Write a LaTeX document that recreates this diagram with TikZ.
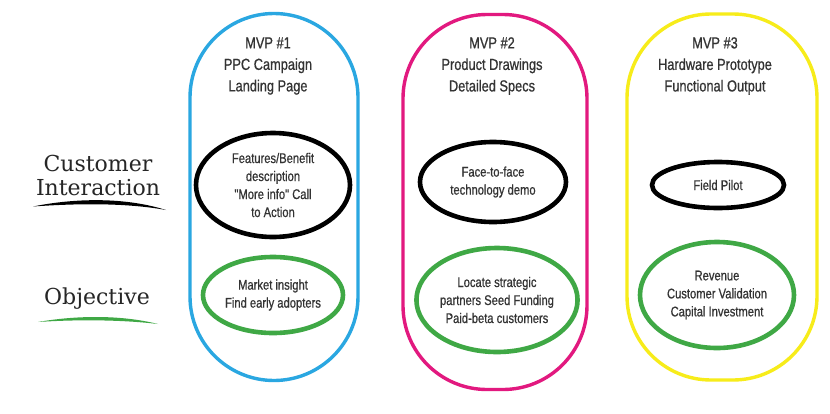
\documentclass[tikz,border=0pt]{standalone}
\usepackage{fontspec}
\setmainfont{DejaVu Serif}
\newfontfamily\narrowsans[FakeStretch=0.8,FakeBold=0.7]{Liberation Sans}
\usepackage{xcolor}
\usetikzlibrary{shapes.geometric}
\definecolor{mvpblue}{HTML}{2AA7E1}
\definecolor{mvppink}{HTML}{E2197F}
\definecolor{mvpyellow}{HTML}{F7EC1A}
\definecolor{ringgreen}{HTML}{3FA845}
\definecolor{inktext}{HTML}{333333}

\begin{document}
\begin{tikzpicture}[
    x=1pt,y=-1pt,
    capsule/.style 2 args={draw,line width=3.4pt,rounded corners=84pt,
      minimum width=#1,minimum height=#2,inner sep=0pt},
    ring/.style={ellipse,line width=4.6pt,inner sep=0pt,align=center,
      text=inktext,font=\narrowsans\fontsize{14}{18}\selectfont},
    head/.style={align=center,text=inktext,
      font=\narrowsans\fontsize{16}{21.5}\selectfont},
    side/.style={align=center,text=black!85,
      font=\fontsize{22}{24}\selectfont},
  ]
    \fill[white] (0,0) rectangle (830,413);
    \useasboundingbox (0,0) rectangle (830,413);

    % the three MVP columns
    \node[capsule={168pt}{367pt},draw=mvpblue] (mvp1) at (274,197) {};
    \node[capsule={184pt}{375pt},draw=mvppink] (mvp2) at (495,202) {};
    \node[capsule={190pt}{366pt},draw=mvpyellow] (mvp3) at (722,197) {};

    \node[head] (head1) at (268,66) {MVP \#1\\PPC Campaign\\Landing Page};
    \node[head] (head2) at (492,66) {MVP \#2\\Product Drawings\\Detailed Specs};
    \node[head] (head3) at (715,66) {MVP \#3\\Hardware Prototype\\Functional Output};

    % customer interaction row
    \node[ring,draw=black,minimum width=154pt,minimum height=104pt] (cust1)
      at (273,185) {Features/Benefit\\description\\"More info" Call\\to Action};
    \node[ring,draw=black,minimum width=146pt,minimum height=80pt] (cust2)
      at (493,182) {Face-to-face\\technology demo};
    \node[ring,draw=black,minimum width=132pt,minimum height=46pt] (cust3)
      at (718,185) {Field Pilot};

    % objective row
    \node[ring,draw=ringgreen,minimum width=140pt,minimum height=76pt] (obj1)
      at (273,295) {Market insight\\Find early adopters};
    \node[ring,draw=ringgreen,minimum width=158pt,minimum height=104pt] (obj2)
      at (497,300) {Locate strategic\\partners Seed Funding\\Paid-beta customers};
    \node[ring,draw=ringgreen,minimum width=154pt,minimum height=106pt] (obj3)
      at (717,295) {Revenue\\Customer Validation\\Capital Investment};

    % row labels
    \node[side] (custlabel) at (98,175) {Customer\\Interaction};
    \node[side] (objlabel) at (97,299) {Objective};
    \fill[black] (33,206.5) .. controls (75,198) and (125,197) .. (166,210)
      .. controls (125,202.5) and (75,203.5) .. cycle;
    \fill[ringgreen] (38,322) .. controls (75,315.5) and (120,314.5) .. (158,324)
      .. controls (120,319.5) and (75,319.5) .. cycle;
  \end{tikzpicture}
\end{document}
